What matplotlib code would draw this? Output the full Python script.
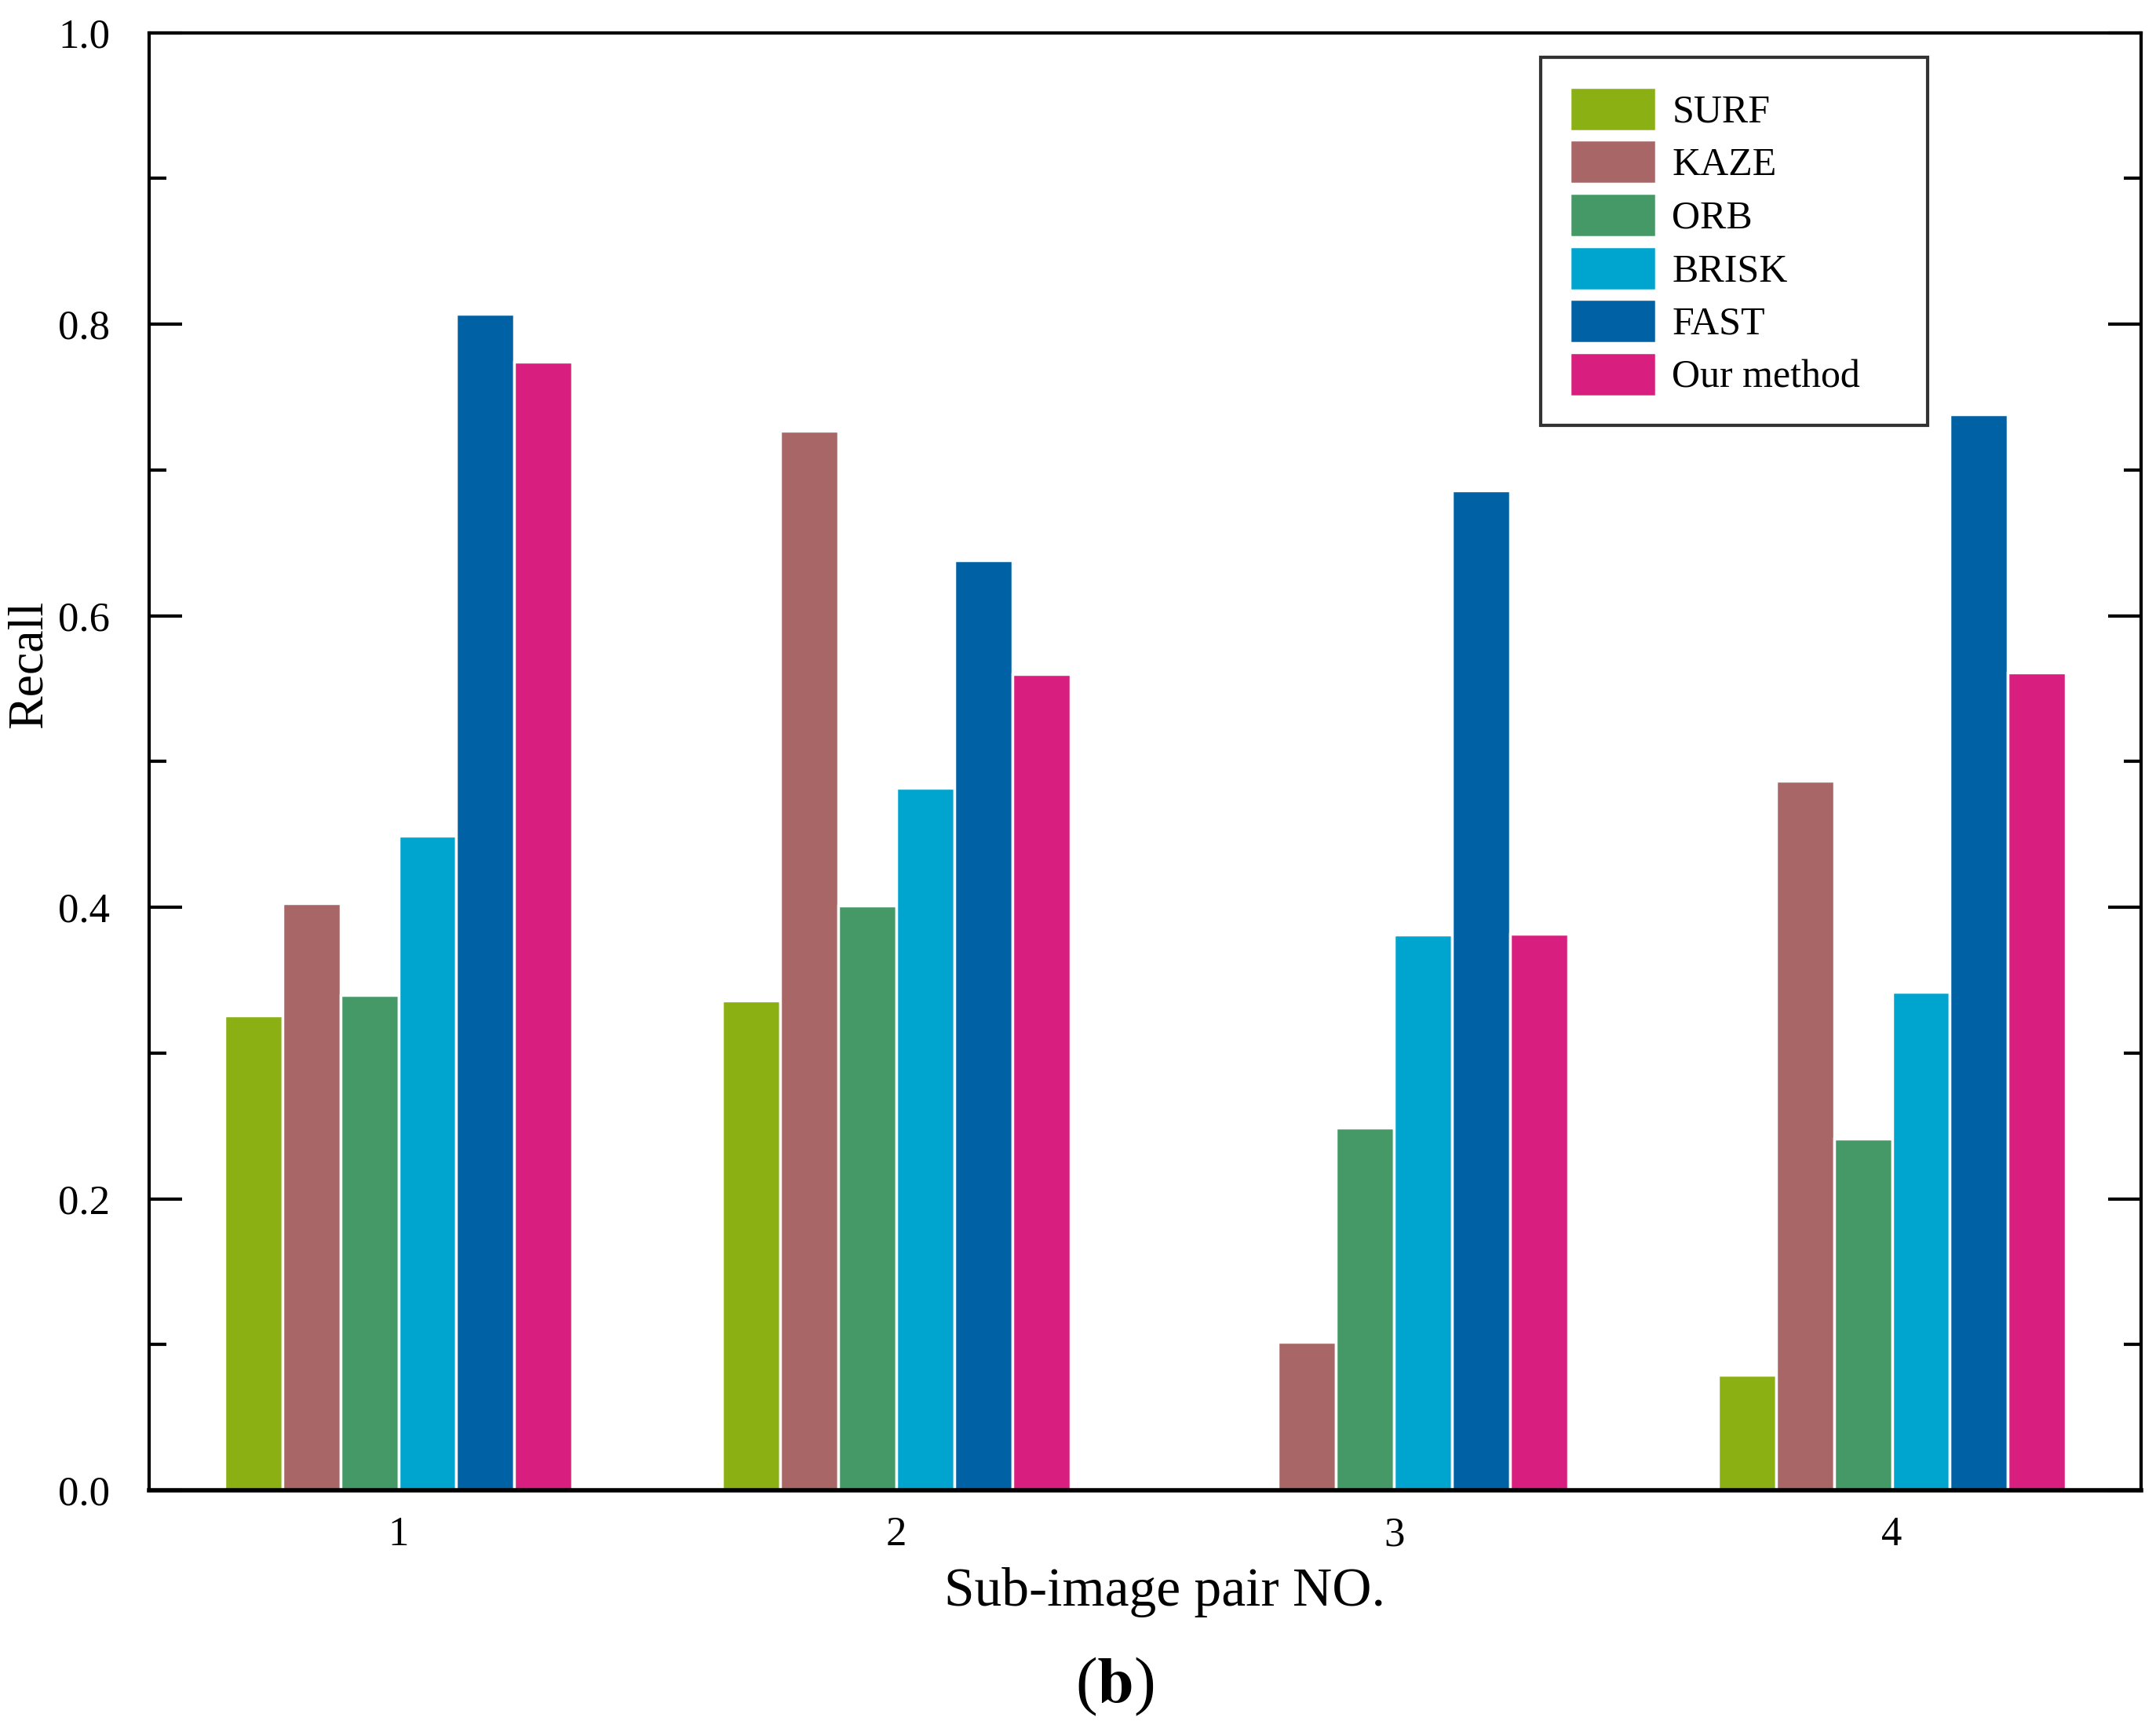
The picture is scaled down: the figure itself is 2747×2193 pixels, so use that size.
import numpy as np
import matplotlib
matplotlib.use("Agg")
from matplotlib import pyplot as plt
from matplotlib.ticker import MultipleLocator, FormatStrFormatter

# Recall per sub-image pair
pairs = [1, 2, 3, 4]
methods = ["SURF", "KAZE", "ORB", "BRISK", "FAST", "Our method"]
surf = [0.326, 0.336, 0.0, 0.079]
kaze = [0.403, 0.727, 0.102, 0.487]
orb = [0.340, 0.401, 0.249, 0.241]
brisk = [0.449, 0.482, 0.381, 0.342]
fast = [0.807, 0.638, 0.686, 0.738]
ours = [0.774, 0.560, 0.382, 0.561]
colors = ["#8AB014", "#A86666", "#449966", "#00A5CF", "#0062A5", "#D81E7E"]

plt.rcParams['font.family'] = ['Liberation Serif', 'DejaVu Serif']
plt.rcParams['mathtext.fontset'] = 'stix'

fig = plt.figure(figsize=(27.47, 21.93), dpi=100)
ax = fig.add_axes([0.0693, 0.134, 0.9237, 0.847])

x = np.array(pairs, dtype=float)
w = 0.1165
series = [surf, kaze, orb, brisk, fast, ours]
for i, (vals, name, c) in enumerate(zip(series, methods, colors)):
    ax.bar(x + (i - 2.5) * w, vals, width=w, color=c, edgecolor='white',
           linewidth=2.5, label=name)

ax.set_xlim(0.5, 4.5)
ax.set_ylim(0, 1.0)
ax.set_xticks(pairs)
ax.yaxis.set_major_locator(MultipleLocator(0.2))
ax.yaxis.set_minor_locator(MultipleLocator(0.1))
ax.yaxis.set_major_formatter(FormatStrFormatter('%.1f'))

ax.tick_params(axis='y', which='major', direction='in', length=30, width=3,
               left=True, right=True, labelsize=38, pad=36)
ax.tick_params(axis='y', which='minor', direction='in', length=16, width=3,
               left=True, right=True)
ax.tick_params(axis='x', length=0, labelsize=38, pad=24)
for s in ax.spines.values():
    s.set_linewidth(3)
ax.spines['bottom'].set_linewidth(4)

ax.set_ylabel("Recall", fontsize=46, va='center')
ax.yaxis.set_label_coords(-0.06, 0.567)
ax.set_xlabel("Sub-image pair NO.", fontsize=50, va='center')
ax.xaxis.set_label_coords(0.51, -0.070)

# legend box stretched to the width seen in the figure
leg = ax.legend(loc='upper left', bbox_to_anchor=(0.6986, 0.0, 0.1944, 0.983),
                mode='expand', fontsize=36,
                frameon=True, fancybox=False, edgecolor='black',
                handlelength=2.2, handleheight=1.35, handletextpad=0.4,
                labelspacing=0.23, borderpad=0.75, borderaxespad=0)
leg.get_frame().set_linewidth(3)

fig.text(0.517, 0.020, r"($\mathbf{b}$)", ha='center', va='center', fontsize=60)

fig.savefig("out.png", dpi=100)
